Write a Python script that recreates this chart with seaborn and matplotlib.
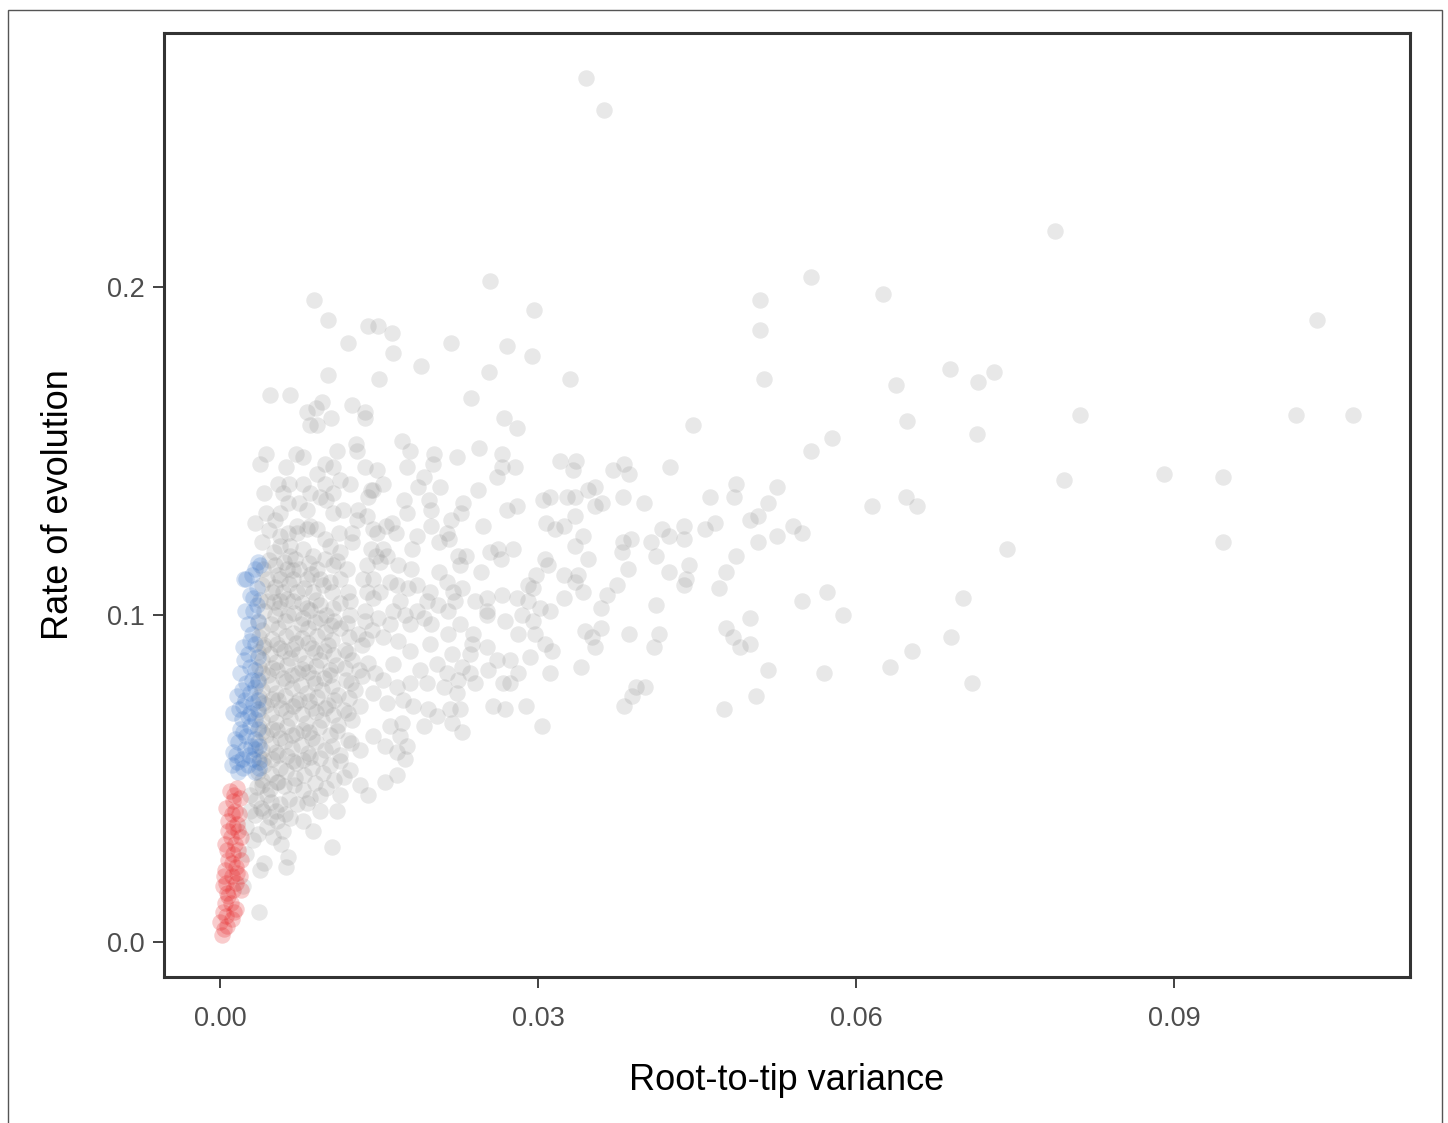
import matplotlib
matplotlib.use("Agg")
import matplotlib.pyplot as plt
import seaborn as sns
import pandas as pd
from matplotlib.patches import Rectangle

# ---------------- data: (root-to-tip variance, rate of evolution) ----------------
gray_sparse = [
    (0.0345, 0.264), (0.0362, 0.254), (0.0788, 0.217), (0.0558, 0.203), (0.0255, 0.202),
    (0.0625, 0.198), (0.0509, 0.196), (0.0089, 0.196), (0.0296, 0.193), (0.1035, 0.190),
    (0.0509, 0.187), (0.0102, 0.190), (0.0140, 0.188), (0.0149, 0.188), (0.0162, 0.186),
    (0.0121, 0.183), (0.0218, 0.183), (0.0271, 0.182), (0.0163, 0.180), (0.0294, 0.179),
    (0.0190, 0.176), (0.0689, 0.175), (0.0730, 0.174), (0.0715, 0.171), (0.0513, 0.172),
    (0.0330, 0.172), (0.0254, 0.174), (0.0150, 0.172), (0.0102, 0.173), (0.0638, 0.170),
    (0.0047, 0.167), (0.0066, 0.167), (0.0237, 0.166), (0.0268, 0.160), (0.0280, 0.157),
    (0.0082, 0.162), (0.0091, 0.163), (0.0096, 0.165), (0.0105, 0.160), (0.0125, 0.164),
    (0.0137, 0.162), (0.0137, 0.160), (0.0085, 0.158), (0.0092, 0.158), (0.0811, 0.161),
    (0.1015, 0.161), (0.1069, 0.161), (0.0648, 0.159), (0.0446, 0.158), (0.0577, 0.154),
    (0.0714, 0.155), (0.0558, 0.150), (0.0742, 0.120), (0.0946, 0.142), (0.0891, 0.143),
    (0.0796, 0.141), (0.0946, 0.122), (0.0615, 0.133), (0.0647, 0.136), (0.0658, 0.133),
    (0.0701, 0.105), (0.0690, 0.093), (0.0653, 0.089), (0.0632, 0.084), (0.0709, 0.079),
]

gray_mid = [
    (0.0321, 0.147), (0.0336, 0.147), (0.0333, 0.144), (0.0371, 0.144), (0.0381, 0.146),
    (0.0386, 0.143), (0.0425, 0.145), (0.0327, 0.136), (0.0335, 0.136), (0.0347, 0.138),
    (0.0354, 0.139), (0.0354, 0.133), (0.0360, 0.134), (0.0380, 0.136), (0.0400, 0.134),
    (0.0462, 0.136), (0.0487, 0.140), (0.0485, 0.136), (0.0525, 0.139), (0.0517, 0.134),
    (0.0508, 0.130), (0.0500, 0.129), (0.0335, 0.130), (0.0325, 0.127), (0.0342, 0.124),
    (0.0335, 0.121), (0.0380, 0.122), (0.0388, 0.123), (0.0379, 0.119), (0.0417, 0.126),
    (0.0424, 0.124), (0.0438, 0.127), (0.0438, 0.123), (0.0458, 0.126), (0.0467, 0.128),
    (0.0407, 0.122), (0.0411, 0.118), (0.0541, 0.127), (0.0549, 0.125), (0.0508, 0.122),
    (0.0525, 0.124), (0.0347, 0.117), (0.0487, 0.118), (0.0385, 0.114), (0.0442, 0.115),
    (0.0424, 0.113), (0.0440, 0.111), (0.0438, 0.109), (0.0477, 0.113), (0.0471, 0.108),
    (0.0325, 0.112), (0.0338, 0.112), (0.0335, 0.110), (0.0342, 0.107), (0.0325, 0.105),
    (0.0375, 0.109), (0.0365, 0.106), (0.0359, 0.102), (0.0411, 0.103), (0.0549, 0.104),
    (0.0573, 0.107), (0.0588, 0.100), (0.0500, 0.099), (0.0477, 0.096), (0.0484, 0.093),
    (0.0491, 0.090), (0.0500, 0.091), (0.0359, 0.096), (0.0344, 0.095), (0.0351, 0.093),
    (0.0354, 0.090), (0.0386, 0.094), (0.0414, 0.094), (0.0409, 0.090), (0.0517, 0.083),
    (0.0570, 0.082), (0.0341, 0.084), (0.0392, 0.078), (0.0401, 0.078), (0.0389, 0.075),
    (0.0381, 0.072), (0.0506, 0.075), (0.0475, 0.071),
]

gray_center = [
    (0.0172, 0.153), (0.0179, 0.150), (0.0202, 0.149), (0.0224, 0.148), (0.0244, 0.151),
    (0.0266, 0.149), (0.0266, 0.145), (0.0278, 0.145), (0.0261, 0.142), (0.0176, 0.145),
    (0.0201, 0.146), (0.0192, 0.142), (0.0187, 0.139), (0.0208, 0.139), (0.0148, 0.144),
    (0.0154, 0.140), (0.0142, 0.138), (0.0243, 0.138), (0.0305, 0.135), (0.0311, 0.136),
    (0.0174, 0.135), (0.0197, 0.135), (0.0199, 0.132), (0.0176, 0.131), (0.0229, 0.134),
    (0.0227, 0.131), (0.0218, 0.129), (0.0271, 0.132), (0.0280, 0.133), (0.0248, 0.127),
    (0.0199, 0.127), (0.0214, 0.125), (0.0216, 0.123), (0.0207, 0.122), (0.0186, 0.124),
    (0.0162, 0.128), (0.0157, 0.127), (0.0148, 0.125), (0.0166, 0.125), (0.0181, 0.120),
    (0.0308, 0.128), (0.0316, 0.126), (0.0255, 0.119), (0.0262, 0.120), (0.0276, 0.120),
    (0.0265, 0.117), (0.0225, 0.118), (0.0232, 0.118), (0.0226, 0.115), (0.0246, 0.113),
    (0.0154, 0.120), (0.0147, 0.118), (0.0158, 0.118), (0.0151, 0.116), (0.0168, 0.115),
    (0.0180, 0.114), (0.0207, 0.113), (0.0214, 0.110), (0.0220, 0.107), (0.0228, 0.108),
    (0.0198, 0.107), (0.0195, 0.104), (0.0186, 0.109), (0.0177, 0.108), (0.0167, 0.109),
    (0.0160, 0.110), (0.0170, 0.104), (0.0175, 0.100), (0.0163, 0.101), (0.0151, 0.107),
    (0.0144, 0.111), (0.0307, 0.117), (0.0309, 0.115), (0.0298, 0.112), (0.0291, 0.109),
    (0.0295, 0.108), (0.0280, 0.105), (0.0266, 0.106), (0.0252, 0.105), (0.0241, 0.104),
    (0.0252, 0.101), (0.0291, 0.104), (0.0302, 0.102), (0.0311, 0.101), (0.0206, 0.103),
    (0.0222, 0.104), (0.0215, 0.101), (0.0186, 0.101), (0.0192, 0.099),
    (0.0149, 0.099), (0.0160, 0.097), (0.0179, 0.097), (0.0199, 0.097), (0.0215, 0.094),
    (0.0226, 0.097), (0.0239, 0.094), (0.0252, 0.100), (0.0269, 0.098), (0.0285, 0.100),
    (0.0295, 0.098), (0.0281, 0.094), (0.0297, 0.094), (0.0154, 0.093), (0.0168, 0.092),
    (0.0179, 0.089), (0.0198, 0.091), (0.0219, 0.088), (0.0238, 0.091), (0.0236, 0.088),
    (0.0252, 0.090), (0.0261, 0.086), (0.0274, 0.086), (0.0292, 0.087), (0.0313, 0.089),
    (0.0307, 0.091), (0.0163, 0.085), (0.0189, 0.083), (0.0205, 0.085), (0.0214, 0.082),
    (0.0228, 0.084), (0.0236, 0.082), (0.0241, 0.079), (0.0225, 0.080), (0.0253, 0.083),
    (0.0281, 0.082), (0.0267, 0.079), (0.0274, 0.079), (0.0311, 0.082), (0.0146, 0.082),
    (0.0154, 0.080), (0.0167, 0.078), (0.0179, 0.079), (0.0195, 0.079), (0.0211, 0.078),
    (0.0224, 0.076), (0.0144, 0.076), (0.0158, 0.073), (0.0173, 0.074), (0.0182, 0.072),
    (0.0196, 0.071), (0.0205, 0.069), (0.0219, 0.067), (0.0217, 0.071), (0.0226, 0.071),
    (0.0192, 0.066), (0.0228, 0.064), (0.0258, 0.072), (0.0269, 0.071), (0.0289, 0.072),
    (0.0304, 0.066), (0.0160, 0.066), (0.0172, 0.067), (0.0170, 0.063), (0.0176, 0.060),
    (0.0156, 0.060), (0.0167, 0.058), (0.0175, 0.056), (0.0144, 0.063), (0.0167, 0.051),
    (0.0156, 0.049),
]

gray_dense = [
    (0.0043, 0.149), (0.0038, 0.146), (0.0062, 0.145), (0.0072, 0.149), (0.0078, 0.148),
    (0.0110, 0.150), (0.0128, 0.152), (0.0129, 0.150), (0.0099, 0.146), (0.0107, 0.145),
    (0.0092, 0.143), (0.0055, 0.140), (0.0065, 0.140), (0.0078, 0.140), (0.0099, 0.140),
    (0.0113, 0.141), (0.0123, 0.140), (0.0137, 0.145), (0.0144, 0.138), (0.0042, 0.137),
    (0.0059, 0.137), (0.0085, 0.137), (0.0094, 0.136), (0.0107, 0.137), (0.0064, 0.134),
    (0.0075, 0.134), (0.0100, 0.135), (0.0140, 0.136), (0.0043, 0.131), (0.0057, 0.131),
    (0.0082, 0.132), (0.0107, 0.131), (0.0116, 0.132), (0.0130, 0.132), (0.0033, 0.128),
    (0.0052, 0.129), (0.0073, 0.127), (0.0085, 0.127), (0.0129, 0.129), (0.0139, 0.130),
    (0.0057, 0.124), (0.0073, 0.125), (0.0082, 0.126), (0.0099, 0.123), (0.0125, 0.125),
    (0.0144, 0.126), (0.0040, 0.122), (0.0057, 0.121), (0.0066, 0.121), (0.0078, 0.120),
    (0.0104, 0.121), (0.0113, 0.119), (0.0125, 0.122), (0.0142, 0.120), (0.0051, 0.119),
    (0.0066, 0.118), (0.0088, 0.118), (0.0099, 0.117), (0.0052, 0.115), (0.0063, 0.114),
    (0.0075, 0.114), (0.0092, 0.114), (0.0107, 0.115), (0.0120, 0.114), (0.0139, 0.115),
    (0.0044, 0.111), (0.0057, 0.111), (0.0069, 0.111), (0.0082, 0.111), (0.0094, 0.111),
    (0.0104, 0.110), (0.0113, 0.111), (0.0135, 0.111), (0.0049, 0.107), (0.0059, 0.107),
    (0.0073, 0.107), (0.0088, 0.107), (0.0106, 0.107), (0.0121, 0.107), (0.0139, 0.107),
    (0.0144, 0.105), (0.0044, 0.104), (0.0057, 0.104), (0.0069, 0.104), (0.0082, 0.102),
    (0.0094, 0.103), (0.0107, 0.102), (0.0123, 0.104), (0.0137, 0.101), (0.0052, 0.100),
    (0.0064, 0.100), (0.0078, 0.099), (0.0094, 0.099), (0.0108, 0.098), (0.0123, 0.100),
    (0.0137, 0.098),
    (0.0040, 0.0953), (0.0055, 0.0959), (0.0069, 0.0944), (0.0083, 0.0959), (0.0099, 0.0947),
    (0.0113, 0.0959), (0.0130, 0.0940), (0.0143, 0.0953),
    (0.0042, 0.0907), (0.0057, 0.0898), (0.0072, 0.0913), (0.0087, 0.0898), (0.0102, 0.0907),
    (0.0118, 0.0892), (0.0134, 0.0907),
    (0.0040, 0.0861), (0.0053, 0.0855), (0.0066, 0.0867), (0.0080, 0.0852), (0.0094, 0.0861),
    (0.0109, 0.0846), (0.0125, 0.0861), (0.0140, 0.0852),
    (0.0045, 0.0815), (0.0059, 0.0806), (0.0074, 0.0821), (0.0088, 0.0806), (0.0104, 0.0815),
    (0.0119, 0.0800), (0.0134, 0.0812),
    (0.0040, 0.0769), (0.0053, 0.0760), (0.0068, 0.0776), (0.0082, 0.0760), (0.0096, 0.0769),
    (0.0111, 0.0754), (0.0127, 0.0769),
    (0.0043, 0.0724), (0.0058, 0.0715), (0.0072, 0.0730), (0.0087, 0.0715), (0.0102, 0.0724),
    (0.0117, 0.0708), (0.0132, 0.0721),
    (0.0040, 0.0678), (0.0053, 0.0672), (0.0066, 0.0684), (0.0081, 0.0669), (0.0096, 0.0678),
    (0.0111, 0.0663), (0.0125, 0.0678),
    (0.0043, 0.0632), (0.0057, 0.0623), (0.0072, 0.0638), (0.0087, 0.0623), (0.0104, 0.0632),
    (0.0121, 0.0617),
    (0.0040, 0.0586), (0.0053, 0.0580), (0.0068, 0.0592), (0.0083, 0.0577), (0.0099, 0.0586),
    (0.0113, 0.0571), (0.0132, 0.0586),
    (0.0042, 0.0540), (0.0057, 0.0531), (0.0072, 0.0547), (0.0087, 0.0531), (0.0104, 0.0540),
    (0.0123, 0.0525),
    (0.0040, 0.0495), (0.0055, 0.0489), (0.0071, 0.0501), (0.0090, 0.0485), (0.0108, 0.0495),
    (0.0132, 0.0479),
    (0.0028, 0.045), (0.0044, 0.045), (0.0057, 0.042), (0.0073, 0.042), (0.0085, 0.044),
    (0.0094, 0.045), (0.0113, 0.045), (0.0140, 0.045), (0.0028, 0.040), (0.0041, 0.040),
    (0.0054, 0.037), (0.0066, 0.038), (0.0078, 0.037), (0.0094, 0.040), (0.0110, 0.040),
    (0.0025, 0.035), (0.0044, 0.035), (0.0059, 0.034), (0.0088, 0.034), (0.0031, 0.031),
    (0.0058, 0.030), (0.0106, 0.029), (0.0025, 0.027), (0.0042, 0.024), (0.0064, 0.026),
    (0.0038, 0.022), (0.0062, 0.023), (0.0022, 0.017), (0.0037, 0.009),
]

gray_core = [
    (0.0046, 0.1258), (0.0064, 0.1250), (0.0092, 0.1262), (0.0112, 0.1250),
    (0.0046, 0.1166), (0.0060, 0.1160), (0.0071, 0.1170), (0.0084, 0.1158), (0.0110, 0.1165),
    (0.0040, 0.1090), (0.0052, 0.1085), (0.0065, 0.1094), (0.0079, 0.1082), (0.0097, 0.1090),
    (0.0038, 0.1044), (0.0051, 0.1038), (0.0063, 0.1048), (0.0077, 0.1035), (0.0091, 0.1045),
    (0.0113, 0.1036),
    (0.0036, 0.0977), (0.0048, 0.0972), (0.0061, 0.0980), (0.0076, 0.0970), (0.0090, 0.0978),
    (0.0105, 0.0968), (0.0120, 0.0975),
    (0.0037, 0.0931), (0.0049, 0.0925), (0.0062, 0.0935), (0.0077, 0.0928), (0.0092, 0.0933),
    (0.0106, 0.0922), (0.0122, 0.0930), (0.0138, 0.0925),
    (0.0036, 0.0885), (0.0047, 0.0880), (0.0060, 0.0890), (0.0075, 0.0878), (0.0090, 0.0887),
    (0.0107, 0.0876), (0.0121, 0.0884),
    (0.0037, 0.0840), (0.0049, 0.0836), (0.0063, 0.0845), (0.0077, 0.0833), (0.0091, 0.0842),
    (0.0104, 0.0830), (0.0118, 0.0838), (0.0131, 0.0832),
    (0.0036, 0.0794), (0.0048, 0.0788), (0.0062, 0.0797), (0.0076, 0.0785), (0.0090, 0.0792),
    (0.0106, 0.0783), (0.0124, 0.0790),
    (0.0037, 0.0748), (0.0049, 0.0742), (0.0061, 0.0752), (0.0075, 0.0740), (0.0092, 0.0748),
    (0.0108, 0.0738), (0.0122, 0.0745),
    (0.0036, 0.0702), (0.0048, 0.0697), (0.0062, 0.0706), (0.0077, 0.0695), (0.0091, 0.0703),
    (0.0107, 0.0692), (0.0121, 0.0700),
    (0.0037, 0.0656), (0.0049, 0.0650), (0.0063, 0.0660), (0.0078, 0.0648), (0.0093, 0.0655),
    (0.0110, 0.0645),
    (0.0036, 0.0611), (0.0048, 0.0605), (0.0061, 0.0614), (0.0076, 0.0602), (0.0091, 0.0610),
    (0.0106, 0.0600), (0.0124, 0.0607),
    (0.0037, 0.0565), (0.0049, 0.0560), (0.0063, 0.0568), (0.0078, 0.0557), (0.0094, 0.0563),
    (0.0113, 0.0552),
    (0.0036, 0.0519), (0.0048, 0.0512), (0.0062, 0.0522), (0.0079, 0.0510), (0.0097, 0.0516),
    (0.0117, 0.0505),
    (0.0035, 0.0473), (0.0047, 0.0467), (0.0060, 0.0476), (0.0078, 0.0464), (0.0100, 0.0470),
    (0.0034, 0.0434), (0.0048, 0.0428), (0.0065, 0.0437), (0.0082, 0.0425),
    (0.0033, 0.0388), (0.0047, 0.0382), (0.0061, 0.0391),
    (0.0036, 0.0330), (0.0050, 0.0322),
]

gray_core_inner = [
    (0.0041, 0.1140), (0.0055, 0.1120), (0.0069, 0.1135), (0.0086, 0.1125),
    (0.0042, 0.1010), (0.0056, 0.1020), (0.0070, 0.1005), (0.0085, 0.1015), (0.0100, 0.1000),
    (0.0041, 0.0900), (0.0054, 0.0910), (0.0068, 0.0895), (0.0083, 0.0912), (0.0098, 0.0890),
    (0.0040, 0.0820), (0.0054, 0.0830), (0.0068, 0.0815), (0.0083, 0.0825), (0.0098, 0.0805),
    (0.0041, 0.0730), (0.0055, 0.0738), (0.0069, 0.0722), (0.0084, 0.0735), (0.0099, 0.0715),
    (0.0040, 0.0640), (0.0054, 0.0648), (0.0068, 0.0632), (0.0084, 0.0642),
    (0.0041, 0.0560), (0.0055, 0.0570), (0.0069, 0.0552), (0.0085, 0.0565),
    (0.0040, 0.0480), (0.0054, 0.0490), (0.0070, 0.0478),
    (0.0039, 0.0410), (0.0053, 0.0400),
]

blue_pts = [
    (0.0036, 0.116), (0.0033, 0.114), (0.0025, 0.111), (0.0038, 0.115), (0.0023, 0.111),
    (0.0031, 0.105), (0.0035, 0.103), (0.0024, 0.101), (0.0031, 0.101), (0.0026, 0.097),
    (0.0028, 0.092), (0.0022, 0.090), (0.0033, 0.091), (0.0026, 0.088), (0.0028, 0.084),
    (0.0019, 0.082), (0.0033, 0.083), (0.0025, 0.079), (0.0033, 0.078), (0.0021, 0.077),
    (0.0028, 0.076), (0.0016, 0.075), (0.0031, 0.073), (0.0022, 0.072), (0.0012, 0.070),
    (0.0028, 0.070), (0.0033, 0.068), (0.0021, 0.068), (0.0028, 0.066), (0.0025, 0.063),
    (0.0033, 0.062), (0.0017, 0.061), (0.0024, 0.059), (0.0033, 0.059), (0.0012, 0.058),
    (0.0021, 0.056), (0.0031, 0.056), (0.0011, 0.054), (0.0022, 0.053), (0.0033, 0.052),
    (0.0017, 0.052),
    (0.0030, 0.112), (0.0035, 0.108), (0.0028, 0.106), (0.0036, 0.098), (0.0030, 0.094),
    (0.0036, 0.087), (0.0023, 0.086), (0.0030, 0.080), (0.0036, 0.080), (0.0024, 0.074),
    (0.0036, 0.074), (0.0018, 0.071), (0.0036, 0.071), (0.0026, 0.069), (0.0036, 0.065),
    (0.0019, 0.065), (0.0029, 0.060), (0.0037, 0.060), (0.0015, 0.057), (0.0027, 0.057),
    (0.0037, 0.055), (0.0016, 0.055), (0.0026, 0.054), (0.0037, 0.053), (0.0014, 0.062),
    (0.0022, 0.064),
]

red_pts = [
    (0.0009, 0.046), (0.0016, 0.047), (0.0012, 0.043), (0.0014, 0.040), (0.0011, 0.039),
    (0.0008, 0.037), (0.0016, 0.036), (0.0017, 0.034), (0.0008, 0.034), (0.0010, 0.032),
    (0.0007, 0.028), (0.0012, 0.027), (0.0017, 0.028), (0.0008, 0.025), (0.0015, 0.023),
    (0.0005, 0.022), (0.0016, 0.021), (0.0011, 0.020), (0.0019, 0.020), (0.0006, 0.018),
    (0.0003, 0.017), (0.0012, 0.016), (0.0007, 0.015), (0.0008, 0.014), (0.0005, 0.012),
    (0.0003, 0.009), (0.0011, 0.007), (0.0000, 0.006), (0.0007, 0.005), (0.0002, 0.002),
    (0.0013, 0.045), (0.0019, 0.044), (0.0006, 0.041), (0.0018, 0.039), (0.0012, 0.035),
    (0.0020, 0.032), (0.0005, 0.030), (0.0014, 0.030), (0.0020, 0.025), (0.0011, 0.024),
    (0.0004, 0.020), (0.0015, 0.018), (0.0020, 0.016), (0.0010, 0.012), (0.0015, 0.010),
    (0.0004, 0.004), (0.0013, 0.009), (0.0006, 0.008),
]

x_ticks = [0.00, 0.03, 0.06, 0.09]
x_tick_labels = ["0.00", "0.03", "0.06", "0.09"]
y_ticks = [0.0, 0.1, 0.2]
y_tick_labels = ["0.0", "0.1", "0.2"]

# ---------------- plotting ----------------
sns.set_style("white")
plt.rcParams["font.family"] = ["Liberation Sans", "DejaVu Sans"]

gray_df = pd.DataFrame(gray_sparse + gray_mid + gray_center + gray_dense + gray_core
                       + gray_core_inner, columns=["var", "rate"])
blue_df = pd.DataFrame(blue_pts, columns=["var", "rate"])
red_df = pd.DataFrame(red_pts, columns=["var", "rate"])

fig = plt.figure(figsize=(14.48, 11.23), dpi=100)
ax = fig.add_axes([164 / 1448, 1 - 977 / 1123, (1410 - 164) / 1448, (977 - 33) / 1123])

msize = 140
sns.scatterplot(data=gray_df, x="var", y="rate", ax=ax, color="#8c8c8c", alpha=0.2,
                s=msize, linewidth=0, legend=False)
sns.scatterplot(data=blue_df, x="var", y="rate", ax=ax, color="#3b75c8", alpha=0.22,
                s=msize, linewidth=0, legend=False)
sns.scatterplot(data=red_df, x="var", y="rate", ax=ax, color="#e41a1c", alpha=0.22,
                s=msize, linewidth=0, legend=False)

ax.set_xlim(-0.00528, 0.11226)
ax.set_ylim(-0.0107, 0.2776)
ax.set_xticks(x_ticks)
ax.set_xticklabels(x_tick_labels)
ax.set_yticks(y_ticks)
ax.set_yticklabels(y_tick_labels)
ax.tick_params(axis="both", which="major", direction="out", length=8, width=1.3,
               color="#333333", labelcolor="#4d4d4d", labelsize=19.5,
               bottom=True, left=True)
ax.tick_params(axis="x", pad=13)
ax.tick_params(axis="y", pad=6)
ax.set_xlabel("Root-to-tip variance", fontsize=26, color="black", labelpad=22)
ax.set_ylabel("Rate of evolution", fontsize=26, color="black", labelpad=22)
for sp in ax.spines.values():
    sp.set_visible(True)
    sp.set_color("#333333")
    sp.set_linewidth(2.2)
ax.grid(False)

# thin outer frame of the figure
fig.patches.append(Rectangle((8 / 1448, -0.02), (1442 - 8) / 1448, 1.02 - 10 / 1123,
                             transform=fig.transFigure, fill=False,
                             edgecolor="#555555", linewidth=1.0))

fig.savefig("out.png", dpi=100, facecolor="white")
